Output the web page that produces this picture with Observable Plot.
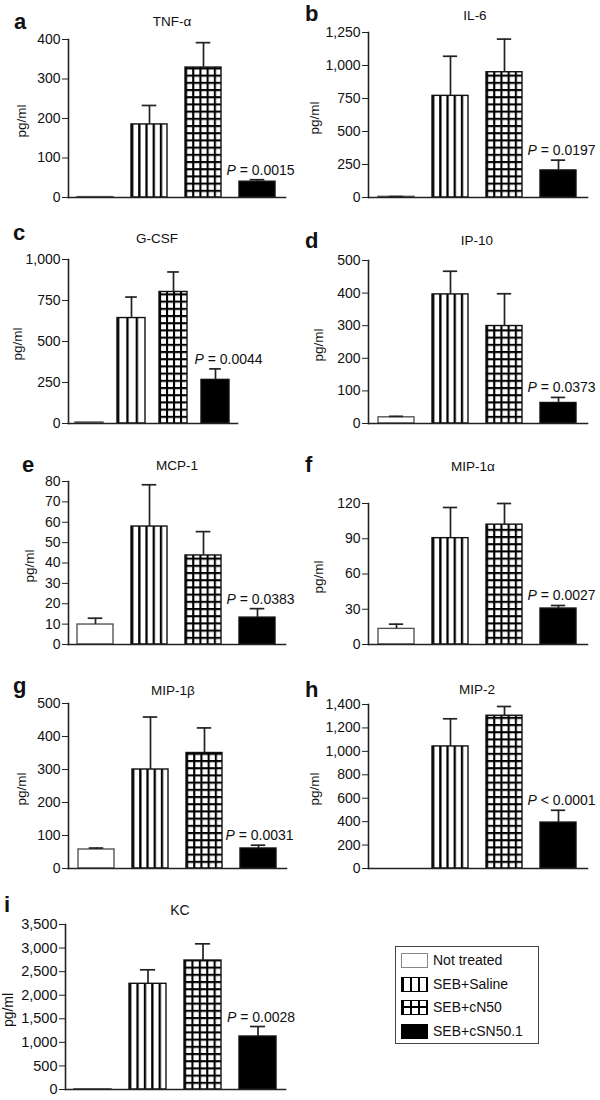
<!DOCTYPE html>
<html><head><meta charset="utf-8">
<script src="https://cdn.jsdelivr.net/npm/d3@7"></script>
<script src="https://cdn.jsdelivr.net/npm/@observablehq/plot@0.6"></script>
<style>
body{margin:0;background:#fff;}
#root{position:relative;width:600px;height:1100px;overflow:hidden;font-family:"Liberation Sans",Arial,Helvetica,sans-serif;color:#111;}
.abs{position:absolute;white-space:nowrap;line-height:1;}
.panel{position:absolute;width:300px;height:220px;}
.legend{position:absolute;border:1.5px solid #444;box-sizing:border-box;background:#fff;}
.sw{position:absolute;box-sizing:border-box;width:27px;height:15px;}
.lt{position:absolute;font-size:14px;line-height:1;white-space:nowrap;}
</style></head><body><div id="root"></div>
<script>
// ---------- data ----------
const groups = ["Not treated", "SEB+Saline", "SEB+cN50", "SEB+cSN50.1"];
const panelLetters = ["a", "b", "c", "d", "e", "f", "g", "h", "i"];
const cytokines = ["TNF-α", "IL-6", "G-CSF", "IP-10", "MCP-1", "MIP-1α", "MIP-1β", "MIP-2", "KC"];
const means = [
  [1, 185, 329, 40],
  [5, 770, 949, 205],
  [6, 643, 802, 266],
  [19, 396, 299, 63],
  [9.8, 57.9, 43.7, 13.2],
  [13.3, 90.5, 102, 30.6],
  [57.6, 300, 350, 60.6],
  [null, 1042, 1304, 392],
  [5, 2242, 2736, 1124]
];
const sems = [
  [0, 48, 63, 5],
  [2, 300, 251, 78],
  [0, 128, 122, 67],
  [3, 71, 99, 17],
  [3.1, 20.5, 11.7, 4.4],
  [4, 26.1, 18, 2.6],
  [4.4, 159, 76, 10],
  [null, 236, 79, 105],
  [0, 297, 354, 212]
];
const yTicks = [
  [0, 100, 200, 300, 400],
  [0, 250, 500, 750, 1000, 1250],
  [0, 250, 500, 750, 1000],
  [0, 100, 200, 300, 400, 500],
  [0, 10, 20, 30, 40, 50, 60, 70, 80],
  [0, 30, 60, 90, 120],
  [0, 100, 200, 300, 400, 500],
  [0, 200, 400, 600, 800, 1000, 1200, 1400],
  [0, 500, 1000, 1500, 2000, 2500, 3000, 3500]
];
const pLabels = ["P = 0.0015", "P = 0.0197", "P = 0.0044", "P = 0.0373", "P = 0.0383", "P = 0.0027", "P = 0.0031", "P < 0.0001", "P = 0.0028"];
const yLabel = "pg/ml";

// ---------- layout (positions / sizes only) ----------
const layout = [
  {left:0,   top:0,   ml:68, mr:15, mt:39, mb:23, letter:[14,30],  title:[172,26],  lab:22,  stripes:5, grid:5, cap:15, pdx:3,  fs:14},
  {left:300, top:0,   ml:68, mr:13, mt:32, mb:23, letter:[305,22], title:[475,20],  lab:315, stripes:5, grid:5, cap:15, pdx:3,  fs:14},
  {left:0,   top:220, ml:68, mr:63, mt:39, mb:17, letter:[13,241], title:[157,243], lab:18,  stripes:3, grid:4, cap:12, pdx:13, fs:14},
  {left:300, top:220, ml:68, mr:13, mt:40, mb:17, letter:[305,249],title:[477,245], lab:319, stripes:5, grid:5, cap:15, pdx:3,  fs:14},
  {left:0,   top:440, ml:68, mr:15, mt:41, mb:16, letter:[22,473], title:[177,470], lab:30,  stripes:5, grid:5, cap:15, pdx:3,  fs:14},
  {left:300, top:440, ml:68, mr:13, mt:63, mb:16, letter:[305,473],title:[473,471], lab:319, stripes:5, grid:5, cap:15, pdx:3,  fs:14},
  {left:0,   top:660, ml:68, mr:14, mt:43, mb:12, letter:[13,694], title:[173,695], lab:22,  stripes:5, grid:5, cap:15, pdx:1,  fs:14},
  {left:300, top:660, ml:68, mr:13, mt:44, mb:12, letter:[305,698],title:[477,694], lab:315, stripes:5, grid:5, cap:15, pdx:3,  fs:14},
  {left:0,   top:880, ml:65, mr:15, mt:44, mb:11, letter:[4,913],  title:[180,915], lab:8,   stripes:5, grid:5, cap:15, pdx:3,  fs:14.5}
];

const root = document.getElementById("root");
const FONT = '"Liberation Sans", Arial, Helvetica, sans-serif';
const ns = "http://www.w3.org/2000/svg";
const PADI = 0.33;

function placeText(txt, x, baseline, fs, weight, anchor) {
  const d = document.createElement("div");
  d.className = "abs";
  d.textContent = txt;
  d.style.fontSize = fs + "px";
  d.style.fontWeight = weight;
  d.style.left = x + "px";
  d.style.top = (baseline - 0.8465 * fs) + "px";
  if (anchor === "middle") d.style.transform = "translateX(-50%)";
  root.appendChild(d);
}

function addPatterns(svg, id, L, y0) {
  const defs = d3.select(svg).insert("defs", ":first-child");
  defs.append("pattern").attr("id", id + "-v")
    .attr("patternUnits", "objectBoundingBox").attr("patternContentUnits", "userSpaceOnUse")
    .attr("x", 0).attr("y", 0).attr("width", 1 / L.stripes).attr("height", 1)
    .append("rect").attr("x", 0).attr("y", 0).attr("width", 2.3).attr("height", 3000).attr("fill", "#000");
  defs.append("pattern").attr("id", id + "-gv")
    .attr("patternUnits", "objectBoundingBox").attr("patternContentUnits", "userSpaceOnUse")
    .attr("x", 0).attr("y", 0).attr("width", 1 / L.grid).attr("height", 1)
    .append("rect").attr("x", 0).attr("y", 0).attr("width", 2.1).attr("height", 3000).attr("fill", "#000");
  defs.append("pattern").attr("id", id + "-gh")
    .attr("patternUnits", "userSpaceOnUse")
    .attr("x", 0).attr("y", y0).attr("width", 20).attr("height", 7.2)
    .append("rect").attr("x", 0).attr("y", 0).attr("width", 20).attr("height", 2.1).attr("fill", "#000");
}

panelLetters.forEach((letter, i) => {
  const L = layout[i];
  const id = "p" + letter;
  const data = groups.map((g, j) => ({
    group: g,
    value: means[i][j],
    top: means[i][j] == null ? null : means[i][j] + sems[i][j],
    sem: sems[i][j]
  })).filter(d => d.value != null);
  const errData = data.filter(d => d.sem > 0);
  const ymax = yTicks[i][yTicks[i].length - 1];
  const W = 300 - L.ml - L.mr;
  const bw = (W / 4) * (1 - PADI);
  const inset = (bw - L.cap) / 2;

  const plot = Plot.plot({
    width: 300, height: 220,
    marginTop: L.mt, marginBottom: L.mb, marginLeft: L.ml, marginRight: L.mr,
    x: {domain: groups, paddingInner: PADI, paddingOuter: PADI / 2, axis: null},
    y: {domain: [0, ymax]},
    style: {fontFamily: FONT, fontSize: "13px", color: "#111", background: "transparent", overflow: "visible"},
    marks: [
      Plot.barY(data, {x: "group", y: "value", fill: d => d.group === groups[3] ? "#000" : "#fff"}),
      Plot.barY(data.filter(d => d.group === groups[1]), {x: "group", y: "value", fill: `url(#${id}-v)`}),
      Plot.barY(data.filter(d => d.group === groups[2]), {x: "group", y: "value", fill: `url(#${id}-gv)`}),
      Plot.barY(data.filter(d => d.group === groups[2]), {x: "group", y: "value", fill: `url(#${id}-gh)`}),
      Plot.barY(data, {x: "group", y: "value", fill: "none", stroke: d => d.group === groups[0] ? "#555" : "#111", strokeWidth: 1.4}),
      Plot.ruleX(errData, {x: "group", y1: "value", y2: "top", stroke: "#222", strokeWidth: 1.7}),
      Plot.tickY(errData, {x: "group", y: "top", stroke: "#222", strokeWidth: 1.7, insetLeft: inset, insetRight: inset}),
      Plot.frame({anchor: "left", stroke: "#222", strokeWidth: 1.6}),
      Plot.frame({anchor: "bottom", stroke: "#222", strokeWidth: 1.6}),
      Plot.axisY({ticks: yTicks[i], tickFormat: d3.format(","), tickSize: 6, tickPadding: 2, fontSize: L.fs, label: null, stroke: "#222", fill: "#111"}),
      Plot.text(data.filter(d => d.group === groups[3]), {x: "group", y: "top", text: () => pLabels[i], lineAnchor: "bottom", dy: -5, dx: L.pdx, fontSize: 14, fill: "#111"})
    ]
  });
  const y0 = plot.scale("y").apply(0);
  addPatterns(plot, id, L, y0);
  plot.querySelectorAll("text").forEach(t => {
    const s = t.textContent;
    if (s.startsWith("P ") && t.children.length === 0) {
      t.textContent = "";
      const ts = document.createElementNS(ns, "tspan");
      ts.setAttribute("font-style", "italic");
      ts.textContent = "P";
      t.appendChild(ts);
      t.appendChild(document.createTextNode(s.slice(1)));
    }
  });
  const wrap = document.createElement("div");
  wrap.className = "panel";
  wrap.style.left = L.left + "px";
  wrap.style.top = L.top + "px";
  wrap.appendChild(plot);
  root.appendChild(wrap);
});

// letters, titles, y labels
panelLetters.forEach((letter, i) => {
  const L = layout[i];
  placeText(letter, L.letter[0], L.letter[1], 22, "bold", "start");
  placeText(cytokines[i], L.title[0], L.title[1], i === 8 ? 14 : 13.5, "normal", "middle");
  const cy = L.top + (L.mt + (220 - L.mb)) / 2 + 3;
  const d = document.createElement("div");
  d.className = "abs";
  d.textContent = yLabel;
  d.style.fontSize = (i === 8 ? 14 : 13.5) + "px";
  d.style.left = L.lab + "px";
  d.style.top = cy + "px";
  d.style.transform = "translate(-50%,-50%) rotate(-90deg)";
  root.appendChild(d);
});

// legend
const leg = document.createElement("div");
leg.className = "legend";
Object.assign(leg.style, {left: "395px", top: "946px", width: "144px", height: "98px"});
const swStyles = [
  {background: "#fff", border: "1.5px solid #888"},
  {border: "1.5px solid #000", backgroundColor: "#fff", backgroundImage: "linear-gradient(to right, #000 2px, transparent 2px)", backgroundSize: "8px 100%", backgroundPosition: "0 0"},
  {border: "1.5px solid #000", backgroundColor: "#fff", backgroundImage: "linear-gradient(to right, #000 2px, transparent 2px), linear-gradient(to bottom, transparent 5px, #000 5px, #000 7px, transparent 7px)", backgroundSize: "8px 100%, 100% 100%", backgroundPosition: "0 0, 0 0"},
  {background: "#000", border: "1.5px solid #000"}
];
groups.forEach((g, j) => {
  const sw = document.createElement("div");
  sw.className = "sw";
  Object.assign(sw.style, swStyles[j]);
  sw.style.left = "5px";
  sw.style.top = (6 + j * 23.5) + "px";
  leg.appendChild(sw);
  const t = document.createElement("div");
  t.className = "lt";
  t.textContent = g;
  t.style.left = "37px";
  t.style.top = (6 + j * 23.5) + "px";
  leg.appendChild(t);
});
root.appendChild(leg);
</script>
</body></html>
